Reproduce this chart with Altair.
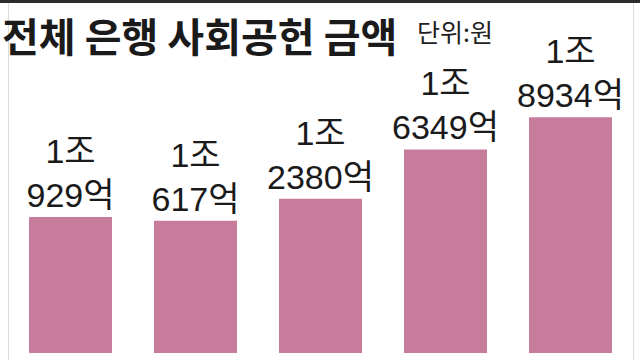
import altair as alt
import pandas as pd

# 전체 은행 사회공헌 금액 (단위: 억원)
bar_order = [1, 2, 3, 4, 5]
amounts_eok = [10929, 10617, 12380, 16349, 18934]

df = pd.DataFrame({"order": bar_order, "amount": amounts_eok})
df["line1"] = [f"{v // 10000}조" for v in amounts_eok]
df["line2"] = [f"{v % 10000}억" for v in amounts_eok]

W, H = 625, 360
BAR_COLOR = "#c87c9b"
LABEL_FONT = "Liberation Sans, Noto Sans CJK KR"

x_enc = alt.X("order:O", axis=None,
              scale=alt.Scale(paddingInner=0.336, paddingOuter=0.168))
y_scale = alt.Scale(domain=[-562, 28346], nice=False, zero=False)

base = alt.Chart(df)

bars = base.mark_bar(color=BAR_COLOR).encode(
    x=x_enc,
    y=alt.Y("amount:Q", axis=None, scale=y_scale),
    y2=alt.value(H),
)

label_top = base.mark_text(
    font=LABEL_FONT, fontSize=34, color="#1a1a1a", baseline="alphabetic", dy=-54
).encode(x=x_enc, y=alt.Y("amount:Q", scale=y_scale), text="line1:N")

label_bottom = base.mark_text(
    font=LABEL_FONT, fontSize=34, color="#1a1a1a", baseline="alphabetic", dy=-10
).encode(x=x_enc, y=alt.Y("amount:Q", scale=y_scale), text="line2:N")

top_band = alt.Chart(pd.DataFrame({"k": [0]})).mark_rect(color="#2b2b2b").encode(
    x=alt.value(-8), x2=alt.value(632), y=alt.value(0), y2=alt.value(3)
)

title = alt.Chart(pd.DataFrame({"t": ["전체 은행 사회공헌 금액"]})).mark_text(
    font="Noto Sans CJK KR", fontSize=40, fontWeight="bold", color="#1a1a1a",
    align="left", baseline="alphabetic"
).encode(x=alt.value(-6), y=alt.value(52), text="t:N")

unit = alt.Chart(pd.DataFrame({"t": ["단위:원"]})).mark_text(
    font="Noto Sans CJK KR", fontSize=25, color="#222222",
    align="left", baseline="alphabetic"
).encode(x=alt.value(409), y=alt.value(42), text="t:N")

chart = alt.layer(top_band, bars, label_top, label_bottom, title, unit).properties(
    width=W, height=H,
    autosize=alt.AutoSizeParams(type="none"),
    padding={"left": 8, "right": 7, "top": 0, "bottom": 0},
).configure_view(stroke=None).configure(background="white")

chart.save("out.html", embed_options={"renderer": "svg", "actions": False})
